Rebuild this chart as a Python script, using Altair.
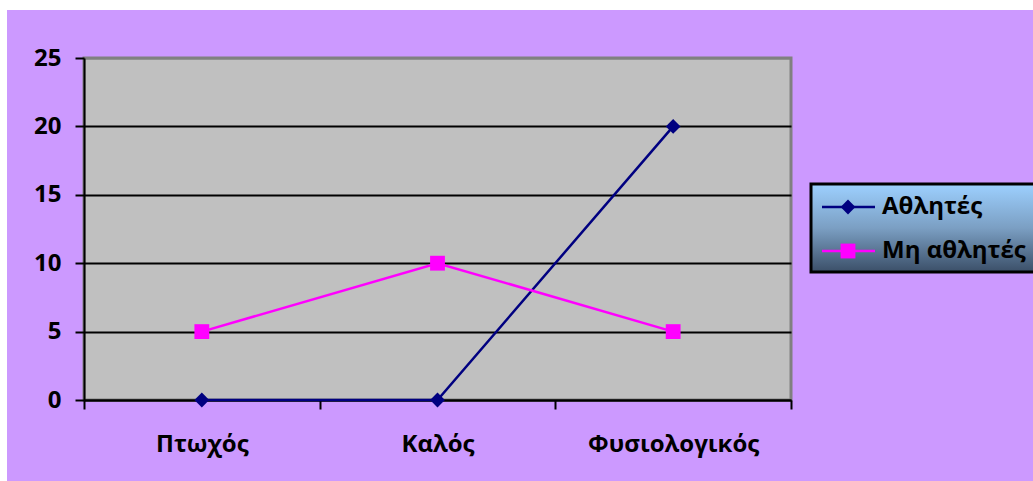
import altair as alt
import pandas as pd

# Chart data
categories = ["Πτωχός", "Καλός", "Φυσιολογικός"]
athletes = [0, 0, 20]
non_athletes = [5, 10, 5]
series_names = ["Αθλητές", "Μη αθλητές"]
series_colors = ["#000080", "#FF00FF"]
series_shapes = ["diamond", "square"]
y_ticks = [0, 5, 10, 15, 20, 25]

# Layout (plot area size and outer padding, in pixels)
W, H = 707, 342
PAD_L, PAD_T = 84, 58
PAD_R, PAD_B = 1033 - PAD_L - W, 481 - PAD_T - H
FONT = "Open Sans"
FS = 24

df = pd.DataFrame({
    "category": categories * 2,
    "series": [series_names[0]] * len(categories) + [series_names[1]] * len(categories),
    "value": athletes + non_athletes,
})

x_enc = alt.X(
    "category:N",
    sort=categories,
    scale=alt.Scale(type="band", paddingInner=0, paddingOuter=0),
    axis=alt.Axis(
        title=None, labelAngle=0, tickBand="extent", grid=False,
        domainColor="black", domainWidth=2, tickColor="black", tickWidth=2,
        tickSize=9, labelFont=FONT, labelFontSize=FS, labelFontWeight="bold",
        labelColor="black", labelPadding=23,
    ),
)
y_enc = alt.Y(
    "value:Q",
    scale=alt.Scale(domain=[0, 25], nice=False),
    axis=alt.Axis(
        title=None, values=y_ticks, grid=True,
        gridColor={"condition": {"test": "datum.value === 25", "value": "#808080"}, "value": "black"},
        gridWidth=2, domainColor="black", domainWidth=2, tickColor="black",
        tickWidth=2, tickSize=9, labelFont=FONT, labelFontSize=FS,
        labelFontWeight="bold", labelColor="black", labelPadding=14,
    ),
)
color_enc = alt.Color("series:N", scale=alt.Scale(domain=series_names, range=series_colors), legend=None)
shape_enc = alt.Shape("series:N", scale=alt.Scale(domain=series_names, range=series_shapes), legend=None)

base = alt.Chart(df).encode(x=x_enc, y=y_enc, color=color_enc, shape=shape_enc, detail="series:N")
lines = base.mark_line(strokeWidth=2.5)
points = base.mark_point(filled=True, opacity=1, size=220)

one = pd.DataFrame({"k": [0]})

# White margin strips at the left and top edges
margins = alt.layer(
    alt.Chart(one).mark_rect(fill="white").encode(
        x=alt.value(-PAD_L), x2=alt.value(-77), y=alt.value(-PAD_T), y2=alt.value(H + PAD_B)),
    alt.Chart(one).mark_rect(fill="white").encode(
        x=alt.value(-PAD_L), x2=alt.value(W + PAD_R), y=alt.value(-PAD_T), y2=alt.value(-48)),
)

# Legend box with vertical gradient
gradient = alt.LinearGradient(
    gradient="linear",
    stops=[alt.GradientStop(color="#9DD0FF", offset=0),
           alt.GradientStop(color="#7B9FC3", offset=0.5),
           alt.GradientStop(color="#3B4F68", offset=1)],
    x1=0, y1=0, x2=0, y2=1,
)
legend_box = alt.Chart(one).mark_rect(fill=gradient, stroke="black", strokeWidth=3).encode(
    x=alt.value(727), x2=alt.value(980), y=alt.value(126), y2=alt.value(214))

legend_rows = [149, 193]
legend_layers = []
for name, col, shp, ry in zip(series_names, series_colors, series_shapes, legend_rows):
    item = pd.DataFrame({"series": [name]})
    legend_layers.append(alt.Chart(item).mark_rule(color=col, strokeWidth=2.5).encode(
        x=alt.value(738), x2=alt.value(791), y=alt.value(ry)))
    legend_layers.append(alt.Chart(item).mark_point(filled=True, opacity=1, shape=shp, color=col, size=220).encode(
        x=alt.value(764), y=alt.value(ry)))
    legend_layers.append(alt.Chart(item).mark_text(
        align="left", baseline="middle", font=FONT, fontSize=FS, fontWeight="bold", color="black").encode(
        x=alt.value(798), y=alt.value(ry), text="series:N"))

chart = alt.layer(margins, lines, points, legend_box, *legend_layers).properties(
    width=W, height=H,
    autosize=alt.AutoSizeParams(type="none"),
    padding={"left": PAD_L, "top": PAD_T, "right": PAD_R, "bottom": PAD_B},
    background="#CC99FF",
).configure_view(fill="#C0C0C0", stroke="#808080", strokeWidth=3)

chart.save("out.html", embed_options={"renderer": "svg", "actions": False})
